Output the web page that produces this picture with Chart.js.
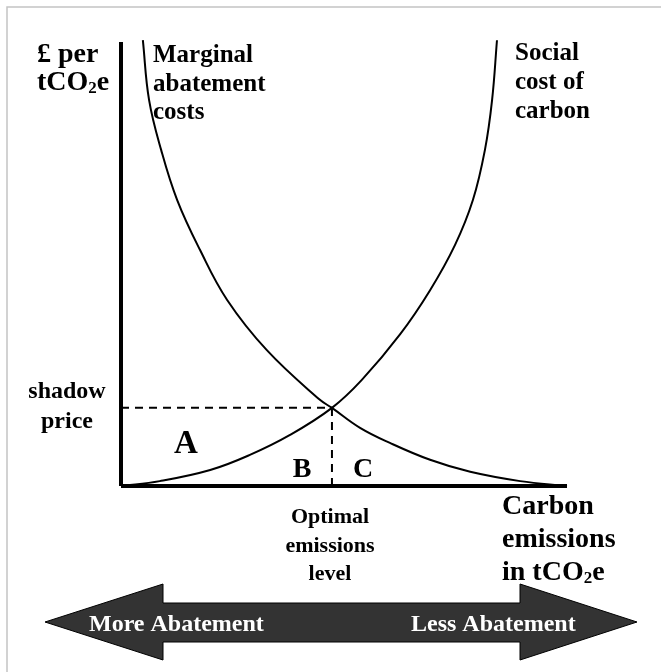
<!DOCTYPE html>
<html>
<head>
<meta charset="utf-8">
<script src="https://cdn.jsdelivr.net/npm/chart.js@4/dist/chart.umd.min.js"></script>
<style>
  html, body { margin: 0; padding: 0; background: #fff; }
  canvas { display: block; }
</style>
</head>
<body>
<canvas id="chart" width="661" height="672"></canvas>
<script>
// curve values (emissions 0-100, price 0-100)
const macQty   = [4.9, 6.3, 9.0, 12.6, 17.7, 23.8, 32.7, 44.6, 47.3, 53.6, 60.3, 69.3, 78.3, 89.5, 100];
const macPrice = [100.4, 86.9, 75.7, 64.4, 53.2, 41.9, 30.6, 19.4, 17.6, 13.1, 9.7, 5.9, 3.2, 1.1, 0];

const sccQty   = [0, 8.7, 20.0, 28.9, 37.9, 47.3, 54.0, 62.6, 69.3, 74.9, 78.9, 81.6, 83.2, 84.3];
const sccPrice = [0, 1.1, 3.6, 7.0, 11.5, 17.6, 23.9, 34.2, 44.1, 54.3, 64.4, 75.7, 86.9, 100.4];

const optimalQty = 47.3;
const shadowPrice = 17.6;
const axisMax = 100;

const FONT = '"Liberation Serif", "Times New Roman", serif';

function pts(xs, ys) {
  return xs.map((x, i) => ({ x: x, y: ys[i] }));
}

// draw text that may contain a subscript part, e.g. [['tCO'], ['2', true], ['e']]
function richText(ctx, parts, x, y, size) {
  let cx = x;
  parts.forEach(p => {
    const sub = p[1];
    ctx.font = 'bold ' + (sub ? Math.round(size * 0.6) : size) + 'px ' + FONT;
    ctx.fillText(p[0], cx, sub ? y + size * 0.12 : y);
    cx += ctx.measureText(p[0]).width;
  });
}

function label(ctx, text, x, y, size, align) {
  ctx.font = 'bold ' + size + 'px ' + FONT;
  ctx.textAlign = align || 'left';
  ctx.fillText(text, x, y);
  ctx.textAlign = 'left';
}

const decor = {
  id: 'decor',
  beforeDraw(chart) {
    const ctx = chart.ctx;
    ctx.save();
    ctx.fillStyle = '#fff';
    ctx.fillRect(0, 0, chart.width, chart.height);
    ctx.strokeStyle = '#c4c4c4';
    ctx.lineWidth = 1.5;
    ctx.beginPath();
    ctx.moveTo(7, chart.height);
    ctx.lineTo(7, 7);
    ctx.lineTo(chart.width, 7);
    ctx.stroke();
    ctx.restore();
  },
  afterDraw(chart) {
    const ctx = chart.ctx;
    ctx.save();
    ctx.fillStyle = '#000';
    ctx.textBaseline = 'alphabetic';

    label(ctx, '£ per', 37, 62, 28);
    richText(ctx, [['tCO'], ['2', true], ['e']], 37, 90, 28);

    label(ctx, 'Marginal', 153, 62, 25);
    label(ctx, 'abatement', 153, 91, 25);
    label(ctx, 'costs', 153, 119, 25);

    label(ctx, 'Social', 515, 60, 25);
    label(ctx, 'cost of', 515, 89, 25);
    label(ctx, 'carbon', 515, 118, 25);

    label(ctx, 'shadow', 67, 398, 24, 'center');
    label(ctx, 'price', 67, 428, 24, 'center');

    label(ctx, 'A', 186, 453, 33, 'center');
    label(ctx, 'B', 302, 477, 28, 'center');
    label(ctx, 'C', 363, 477, 28, 'center');

    label(ctx, 'Optimal', 330, 523, 22, 'center');
    label(ctx, 'emissions', 330, 552, 22, 'center');
    label(ctx, 'level', 330, 580, 22, 'center');

    label(ctx, 'Carbon', 502, 514, 28);
    label(ctx, 'emissions', 502, 547, 28);
    richText(ctx, [['in tCO'], ['2', true], ['e']], 502, 580, 28);

    // double headed arrow
    ctx.beginPath();
    ctx.moveTo(45, 622);
    ctx.lineTo(163, 584);
    ctx.lineTo(163, 603);
    ctx.lineTo(520, 603);
    ctx.lineTo(520, 584);
    ctx.lineTo(637, 622);
    ctx.lineTo(520, 660);
    ctx.lineTo(520, 642);
    ctx.lineTo(163, 642);
    ctx.lineTo(163, 660);
    ctx.closePath();
    ctx.fillStyle = '#333333';
    ctx.fill();
    ctx.strokeStyle = '#000';
    ctx.lineWidth = 1;
    ctx.stroke();

    ctx.fillStyle = '#fff';
    label(ctx, 'More Abatement', 89, 631, 24);
    label(ctx, 'Less Abatement', 411, 631, 24);
    ctx.restore();
  }
};

const line = (data, extra) => Object.assign({
  data: data,
  borderColor: '#000',
  borderWidth: 2,
  pointRadius: 0,
  showLine: true,
  fill: false,
  clip: false,
  capBezierPoints: false
}, extra);

new Chart(document.getElementById('chart'), {
  type: 'scatter',
  data: {
    datasets: [
      line(pts(macQty, macPrice), { label: 'Marginal abatement costs', tension: 0.4 }),
      line(pts(sccQty, sccPrice), { label: 'Social cost of carbon', tension: 0.4 }),
      line([{ x: 0, y: shadowPrice }, { x: optimalQty, y: shadowPrice }], { label: 'shadow price', borderDash: [8, 6] }),
      line([{ x: optimalQty, y: 0 }, { x: optimalQty, y: shadowPrice }], { label: 'optimal', borderDash: [8, 6] }),
      line([{ x: 0, y: 0 }, { x: 0, y: axisMax }], { label: 'y axis', borderWidth: 4 }),
      line([{ x: 0, y: 0 }, { x: axisMax, y: 0 }], { label: 'x axis', borderWidth: 4 })
    ]
  },
  options: {
    responsive: false,
    animation: false,
    devicePixelRatio: 1,
    layout: { padding: { left: 121, right: 94, top: 42, bottom: 186 } },
    scales: {
      x: { type: 'linear', min: 0, max: axisMax, display: false },
      y: { type: 'linear', min: 0, max: axisMax, display: false }
    },
    plugins: {
      legend: { display: false },
      tooltip: { enabled: false }
    }
  },
  plugins: [decor]
});
</script>
</body>
</html>
